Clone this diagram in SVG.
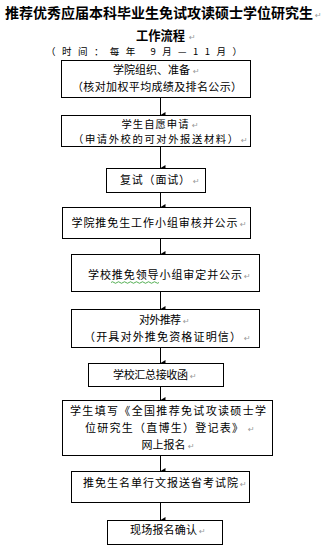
<svg xmlns="http://www.w3.org/2000/svg" width="325" height="560" viewBox="0 0 325 560">
<style>
.bg{fill:#fff}
.box{fill:#fff;stroke:#000;stroke-width:1}
.t{font-family:"Noto Sans CJK SC","Noto Sans",sans-serif;font-size:11px;fill:#000}
.s{font-size:10.3px}
.h{font-family:"Noto Sans CJK SC","Noto Sans",sans-serif;font-weight:bold;fill:#000}
.pm{font-family:"DejaVu Sans",sans-serif;font-size:8px;fill:#999}
.conn line{stroke:#000;stroke-width:1}
</style>
<defs>
<marker id="ah" viewBox="0 0 6 5" refX="3" refY="5" markerWidth="6" markerHeight="5" markerUnits="userSpaceOnUse" orient="auto-start-reverse">
<path d="M0,0 L6,0 L3,5 Z" fill="#000"/>
</marker>
</defs>
<rect class="bg" x="0" y="0" width="325" height="560"/>
<g id="title">
<text class="h" x="5" y="18" font-size="14" textLength="308" lengthAdjust="spacingAndGlyphs">推荐优秀应届本科毕业生免试攻读硕士学位研究生</text>
<text class="pm" x="315" y="18">↵</text>
<text class="h" x="136" y="40" font-size="13" textLength="49" lengthAdjust="spacingAndGlyphs">工作流程</text>
<text class="pm" x="189" y="40">↵</text>
<text class="t" x="46" y="55" style="font-size:9.5px" textLength="196" lengthAdjust="spacing">（时间：每年 9月—11月）</text>
</g>
<g class="conn" id="connectors">
<line x1="160.5" y1="98" x2="160.5" y2="115" marker-end="url(#ah)"/>
<line x1="160.5" y1="147" x2="160.5" y2="168" marker-end="url(#ah)"/>
<line x1="160.5" y1="193" x2="160.5" y2="207" marker-end="url(#ah)"/>
<line x1="160.5" y1="239" x2="160.5" y2="254" marker-end="url(#ah)"/>
<line x1="160.5" y1="292" x2="160.5" y2="309" marker-end="url(#ah)"/>
<line x1="160.5" y1="348" x2="160.5" y2="363" marker-end="url(#ah)"/>
<line x1="160.5" y1="387" x2="160.5" y2="400" marker-end="url(#ah)"/>
<line x1="160.5" y1="456" x2="160.5" y2="471" marker-end="url(#ah)"/>
<line x1="160.5" y1="503" x2="160.5" y2="520" marker-end="url(#ah)"/>
</g>
<g id="n1">
<rect class="box" x="61.5" y="60.5" width="189" height="37"/>
<text class="t" x="113" y="74" textLength="77" lengthAdjust="spacing">学院组织、准备</text>
<text class="pm" x="193" y="74">↵</text>
<text class="t" x="72" y="90.5" textLength="170" lengthAdjust="spacing">（核对加权平均成绩及排名公示）</text>
</g>
<g id="n2">
<rect class="box" x="61.5" y="115.5" width="189" height="31"/>
<text class="t s" x="121.5" y="127.5" textLength="67" lengthAdjust="spacing">学生自愿申请</text>
<text class="pm" x="192" y="127.5">↵</text>
<text class="t s" x="73" y="142.5" textLength="165" lengthAdjust="spacing">（申请外校的可对外报送材料）</text>
<text class="pm" x="241" y="142.5">↵</text>
</g>
<g id="n3">
<rect class="box" x="106.5" y="168.5" width="99" height="24"/>
<text class="t" x="120" y="184" textLength="70" lengthAdjust="spacing">复试（面试）</text>
<text class="pm" x="193" y="184">↵</text>
</g>
<g id="n4">
<rect class="box" x="62.5" y="207.5" width="188" height="31"/>
<text class="t" x="71.5" y="227" textLength="166" lengthAdjust="spacing">学院推免生工作小组审核并公示</text>
<text class="pm" x="240" y="227">↵</text>
</g>
<g id="n5">
<rect class="box" x="71.5" y="254.5" width="188" height="37"/>
<text class="t" x="88" y="279" textLength="154" lengthAdjust="spacing">学校推免领导小组审定并公示</text>
<text class="pm" x="244" y="279">↵</text>
<path d="M111,282.5 q1.5,-1.5 3,0 t3,0 t3,0 t3,0 t3,0 t3,0 t3,0 t3,0 t3,0 t3,0 t3,0 t3,0 t3,0 t3,0 t3,0 t3,0" fill="none" stroke="#2a9a2a" stroke-width="0.8"/>
</g>
<g id="n6">
<rect class="box" x="71.5" y="309.5" width="188" height="38"/>
<text class="t" x="139" y="324" textLength="42" lengthAdjust="spacing">对外推荐</text>
<text class="pm" x="183" y="324">↵</text>
<text class="t" x="84" y="340.5" textLength="157" lengthAdjust="spacing">（开具对外推免资格证明信）</text>
<text class="pm" x="244" y="340.5">↵</text>
</g>
<g id="n7">
<rect class="box" x="88.5" y="363.5" width="135" height="23"/>
<text class="t" x="113" y="379" textLength="75" lengthAdjust="spacing">学校汇总接收函</text>
<text class="pm" x="190" y="379">↵</text>
</g>
<g id="n8">
<rect class="box" x="62.5" y="400.5" width="210" height="55"/>
<text class="t" x="70" y="415" textLength="196" lengthAdjust="spacing">学生填写《全国推荐免试攻读硕士学</text>
<text class="t" x="85" y="432" textLength="158" lengthAdjust="spacing">位研究生（直博生）登记表》</text>
<text class="pm" x="248" y="432">↵</text>
<text class="t" x="141.5" y="449" textLength="44" lengthAdjust="spacing">网上报名</text>
<text class="pm" x="188" y="449">↵</text>
</g>
<g id="n9">
<rect class="box" x="71.5" y="471.5" width="178" height="31"/>
<text class="t" x="83" y="487" textLength="155" lengthAdjust="spacing">推免生名单行文报送省考试院</text>
<text class="pm" x="240" y="487">↵</text>
</g>
<g id="n10">
<rect class="box" x="107.5" y="520.5" width="115" height="24"/>
<text class="t" x="130" y="534" textLength="67" lengthAdjust="spacing">现场报名确认</text>
<text class="pm" x="199" y="534">↵</text>
</g>
</svg>
